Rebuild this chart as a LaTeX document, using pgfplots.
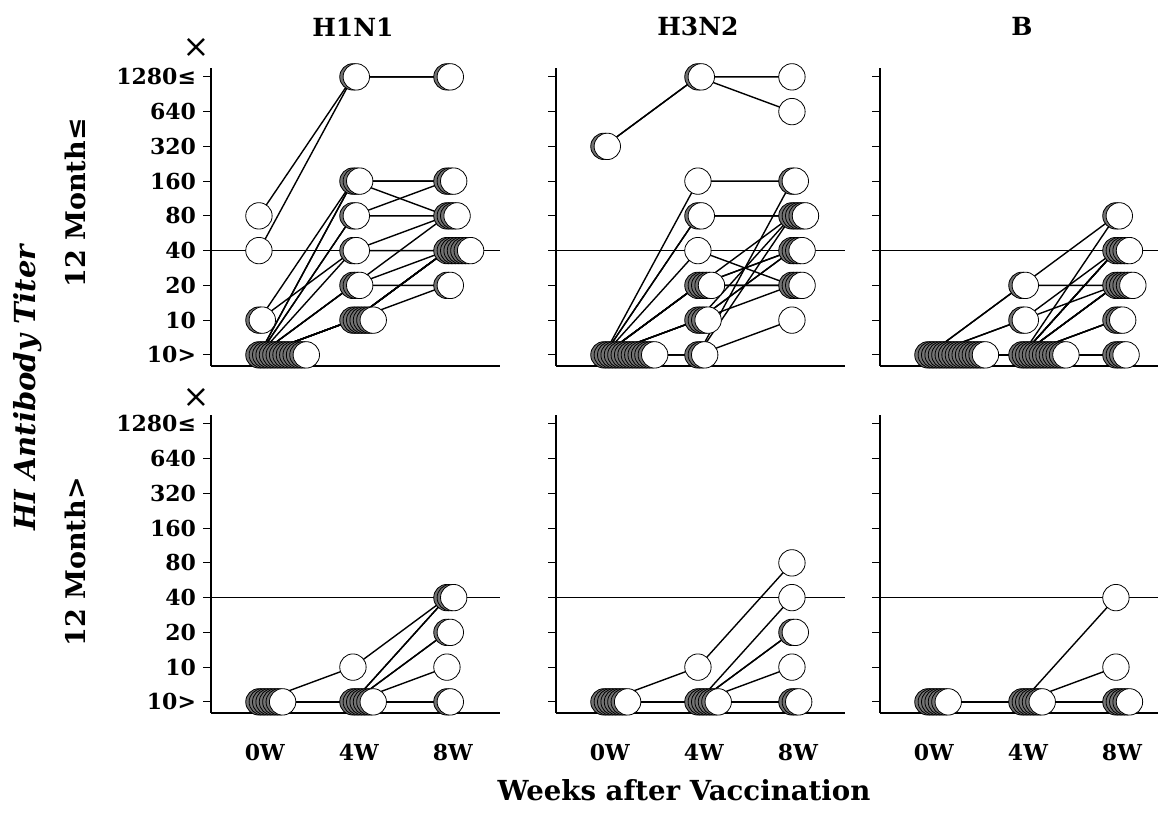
\documentclass[border=0pt]{standalone}
\usepackage{fontspec}
\setmainfont{DejaVu Serif}
\usepackage{pgfplots}
\pgfplotsset{compat=1.18}

\newcommand\tickfont{\fontsize{11}{12}\selectfont\bfseries}
\tikzset{
  circ/.style={only marks, mark=*, mark size=6.6pt,
    mark options={fill=white, draw=black, line width=0.75pt}},
  conn/.style={black, line width=0.7pt, mark=none},
  refl/.style={black, line width=0.55pt, mark=none},
}
\pgfplotsset{panel/.style={
  x=47pt, y=17.375pt, xmin=-0.51, xmax=2.56, ymin=-0.32, ymax=8.26,
  axis x line*=bottom, axis y line*=left,
  axis line style={line width=0.85pt, -},
  ytick={0,...,8}, yticklabels={}, xtick={0,1,2}, xticklabels={},
  tick align=outside, major tick length=4pt,
  xtick style={draw=none}, ytick style={line width=0.6pt, black},
  clip=false, anchor=south west,
  tick label style={font=\tickfont},
  xticklabel style={yshift=-8pt, xshift=3pt},
}}
% a subject's titres at 0W, 4W, 8W (levels: 0 = <10, 1 = 10, ..., 8 = >=1280)
\newcommand\subj[3]{\addplot[conn] coordinates {(0,#1) (1,#2) (2,#3)};}
% stack of n overlapping circles: week, level, count
\newcommand\stack[3]{%
  \foreach \k in {1,...,#3}{%
    \pgfmathsetmacro\xx{#1+(\k-1)*0.036}%
    \ifnum\k<#3\def\fc{black!55}\else\def\fc{white}\fi
    \edef\tmp{\noexpand\addplot[circ, mark options={fill=\fc}] coordinates {(\xx,#2)};}\tmp}}

\begin{document}
\begin{tikzpicture}
\path[use as bounding box] (0,0) rectangle (579pt,409.5pt);

% ===== H1N1, 12 months and older =====
\begin{axis}[panel, at={(105.5pt,226.5pt)},
  yticklabels={10>,10,20,40,80,160,320,640,1280≤}]
\addplot[refl] coordinates {(-0.51,3) (2.56,3)};
\subj{4}{8}{8}\subj{3}{8}{8}
\subj{1}{5}{5}\subj{0}{5}{5}\subj{0}{5}{4}
\subj{0}{4}{5}\subj{0}{4}{4}
\subj{1}{3}{4}\subj{0}{3}{3}
\subj{0}{2}{4}\subj{0}{2}{3}\subj{0}{2}{2}
\subj{0}{1}{3}\subj{0}{1}{3}\subj{0}{1}{3}\subj{0}{1}{3}\subj{0}{1}{3}\subj{0}{1}{3}\subj{0}{1}{2}
\stack{0}{4}{1}\stack{0}{3}{1}\stack{0}{1}{2}\stack{0}{0}{15}
\stack{1}{8}{2}\stack{1}{5}{3}\stack{1}{4}{2}\stack{1}{3}{2}\stack{1}{2}{3}\stack{1}{1}{7}
\stack{2}{8}{2}\stack{2}{5}{3}\stack{2}{4}{4}\stack{2}{3}{8}\stack{2}{2}{2}
\node[font=\fontsize{12.5}{13}\selectfont\bfseries] at (axis cs:1,9.44) {H1N1};
\node[font=\fontsize{16}{16}\selectfont] at (axis cs:-0.67,8.83) {×};
\end{axis}

% ===== H3N2, 12 months and older =====
\begin{axis}[panel, at={(278pt,226.5pt)}]
\addplot[refl] coordinates {(-0.51,3) (2.56,3)};
\subj{6}{8}{8}\subj{6}{8}{7}
\subj{0}{5}{5}
\subj{0}{4}{4}\subj{0}{4}{4}
\subj{0}{3}{2}
\subj{0}{2}{2}\subj{0}{2}{3}\subj{0}{2}{4}\subj{0}{2}{2}\subj{0}{2}{3}
\subj{0}{1}{3}\subj{0}{1}{4}\subj{0}{1}{2}\subj{0}{1}{3}
\subj{0}{0}{5}\subj{0}{0}{1}\subj{0}{0}{4}
\stack{0}{6}{2}\stack{0}{0}{16}
\stack{1}{8}{2}\stack{1}{5}{1}\stack{1}{4}{2}\stack{1}{3}{1}\stack{1}{2}{5}\stack{1}{1}{4}\stack{1}{0}{3}
\stack{2}{8}{1}\stack{2}{7}{1}\stack{2}{5}{2}\stack{2}{4}{5}\stack{2}{3}{4}\stack{2}{2}{4}\stack{2}{1}{1}
\node[font=\fontsize{12.5}{13}\selectfont\bfseries] at (axis cs:1,9.44) {H3N2};
\end{axis}

% ===== B, 12 months and older =====
\begin{axis}[panel, at={(440pt,226.5pt)}, xmax=2.45]
\addplot[refl] coordinates {(-0.51,3) (2.45,3)};
\subj{0}{2}{4}\subj{0}{2}{2}
\subj{0}{1}{3}\subj{0}{1}{2}
\subj{0}{0}{4}
\subj{0}{0}{3}\subj{0}{0}{3}\subj{0}{0}{3}\subj{0}{0}{3}
\subj{0}{0}{2}\subj{0}{0}{2}\subj{0}{0}{2}\subj{0}{0}{2}
\subj{0}{0}{1}\subj{0}{0}{1}\subj{0}{0}{1}
\subj{0}{0}{0}\subj{0}{0}{0}\subj{0}{0}{0}\subj{0}{0}{0}
\stack{0}{0}{18}
\stack{1}{2}{2}\stack{1}{1}{2}\stack{1}{0}{14}
\stack{2}{4}{2}\stack{2}{3}{5}\stack{2}{2}{6}\stack{2}{1}{3}\stack{2}{0}{4}
\node[font=\fontsize{12.5}{13}\selectfont\bfseries] at (axis cs:1,9.44) {B};
\end{axis}

% ===== H1N1, under 12 months =====
\begin{axis}[panel, at={(105.5pt,53pt)},
  yticklabels={10>,10,20,40,80,160,320,640,1280≤},
  xticklabels={0W,4W,8W}]
\addplot[refl] coordinates {(-0.51,3) (2.56,3)};
\subj{0}{1}{3}\subj{0}{0}{3}\subj{0}{0}{3}\subj{0}{0}{2}\subj{0}{0}{2}
\subj{0}{0}{1}\subj{0}{0}{0}\subj{0}{0}{0}
\stack{0}{0}{8}
\stack{1}{1}{1}\stack{1}{0}{7}
\stack{2}{3}{3}\stack{2}{2}{2}\stack{2}{1}{1}\stack{2}{0}{2}
\node[font=\fontsize{16}{16}\selectfont] at (axis cs:-0.67,8.75) {×};
\end{axis}

% ===== H3N2, under 12 months =====
\begin{axis}[panel, at={(278pt,53pt)}, xticklabels={0W,4W,8W}]
\addplot[refl] coordinates {(-0.51,3) (2.56,3)};
\subj{0}{1}{4}\subj{0}{0}{3}\subj{0}{0}{2}\subj{0}{0}{2}\subj{0}{0}{1}
\subj{0}{0}{0}\subj{0}{0}{0}\subj{0}{0}{0}
\stack{0}{0}{8}
\stack{1}{1}{1}\stack{1}{0}{7}
\stack{2}{4}{1}\stack{2}{3}{1}\stack{2}{2}{2}\stack{2}{1}{1}\stack{2}{0}{3}
\end{axis}

% ===== B, under 12 months =====
\begin{axis}[panel, at={(440pt,53pt)}, xmax=2.45, xticklabels={0W,4W,8W}]
\addplot[refl] coordinates {(-0.51,3) (2.45,3)};
\subj{0}{0}{3}\subj{0}{0}{1}
\subj{0}{0}{0}\subj{0}{0}{0}\subj{0}{0}{0}\subj{0}{0}{0}\subj{0}{0}{0}
\stack{0}{0}{7}
\stack{1}{0}{7}
\stack{2}{3}{1}\stack{2}{1}{1}\stack{2}{0}{5}
\end{axis}

% ===== outer labels =====
\node[rotate=90, font=\fontsize{14.5}{15}\selectfont\bfseries\itshape] at (14pt,215.5pt) {HI Antibody Titer};
\node[rotate=90, font=\fontsize{13.5}{14}\selectfont\bfseries] at (37.5pt,308pt) {12 Month≤};
\node[rotate=90, font=\fontsize{13.5}{14}\selectfont\bfseries] at (37.5pt,128.5pt) {12 Month>};
\node[font=\fontsize{13.8}{14}\selectfont\bfseries] at (342pt,14.5pt) {Weeks after Vaccination};
\end{tikzpicture}
\end{document}
